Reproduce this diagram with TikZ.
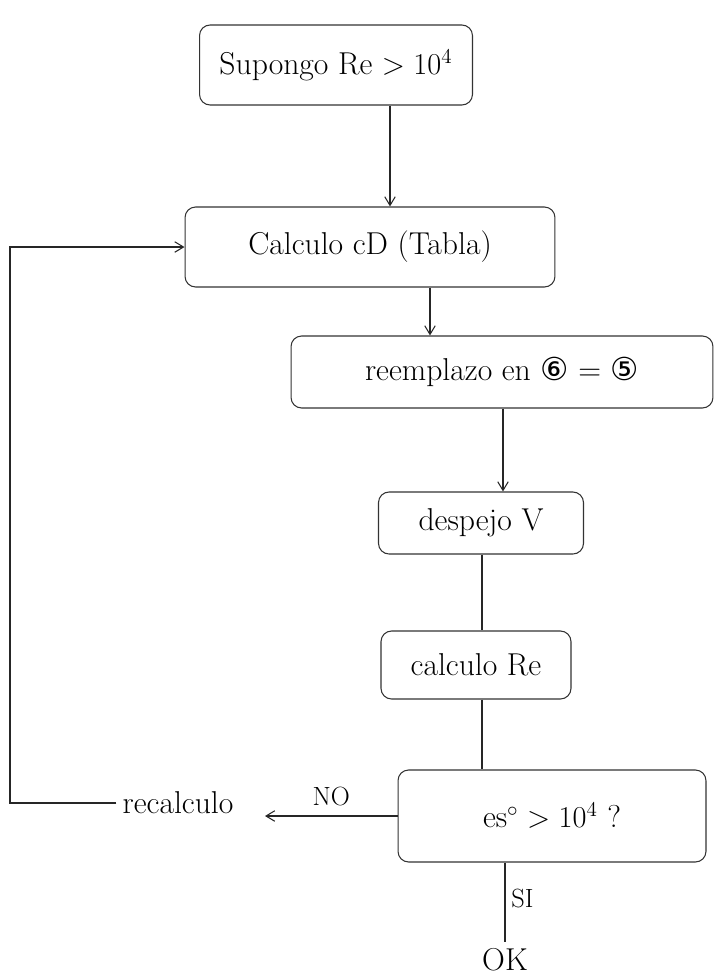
\documentclass[tikz,border=0pt]{standalone}
\usepackage{fontspec}
\newfontfamily\symfont{DejaVu Sans}
\usetikzlibrary{arrows.meta,calc}
\begin{document}
\begin{tikzpicture}[x=0.02cm,y=-0.02cm,
  box/.style={draw=black!80, rounded corners=6pt, line width=0.6pt, inner sep=0pt},
  lbl/.style={font=\fontsize{18}{21}\selectfont},
  small/.style={font=\fontsize{15}{18}\selectfont},
  conn/.style={draw=black!85, line width=0.6pt},
  arr/.style={conn, -{Straight Barb[length=5pt,width=6pt]}}]
\useasboundingbox (0,0) rectangle (719,975);
\fill[white] (0,0) rectangle (719,975);

\node[box, lbl, minimum width=5.46cm, minimum height=1.6cm] (sup) at (336,65) {Supongo Re $>10^4$};
\node[box, lbl, minimum width=7.4cm, minimum height=1.6cm] (calc) at (370,247) {Calculo cD (Tabla)};
\node[box, lbl, minimum width=8.44cm, minimum height=1.44cm] (reem) at (502,372) {reemplazo en {\symfont ⑥} = {\symfont ⑤}};
\node[box, lbl, minimum width=4.1cm, minimum height=1.24cm] (desp) at (481,523) {despejo V};
\node[box, lbl, minimum width=3.8cm, minimum height=1.36cm] (calcre) at (476,665) {calculo Re};
\node[box, lbl, minimum width=6.16cm, minimum height=1.84cm] (dec) at (552,816) {es$^{\circ} > 10^4$ ?};

\node[lbl] (recalc) at (178,803) {recalculo};
\node[lbl] (ok) at (505,960) {OK};

\coordinate (x1) at (390,0);
\coordinate (x2) at (430,0);
\coordinate (x3) at (503,0);
\coordinate (x4) at (482,0);
\coordinate (x6) at (505,0);
\coordinate (lc) at (10,0);
\coordinate (ne) at (265,0);

\draw[arr] (sup.south -| x1) -- (calc.north -| x1);
\draw[arr] (calc.south -| x2) -- (reem.north -| x2);
\draw[arr] (reem.south -| x3) -- (desp.north -| x3);
\draw[conn] (desp.south -| x4) -- (calcre.north -| x4);
\draw[conn] (calcre.south -| x4) -- (dec.north -| x4);
\draw[conn] (dec.south -| x6) -- node[pos=0.45, right, small] {SI} (ok.north -| x6);
\draw[arr] (dec.west) -- node[above=2pt, small] {NO} (dec.west -| ne);
\draw[arr] (recalc.west) -- (recalc.west -| lc) |- (calc.west);
\end{tikzpicture}
\end{document}
